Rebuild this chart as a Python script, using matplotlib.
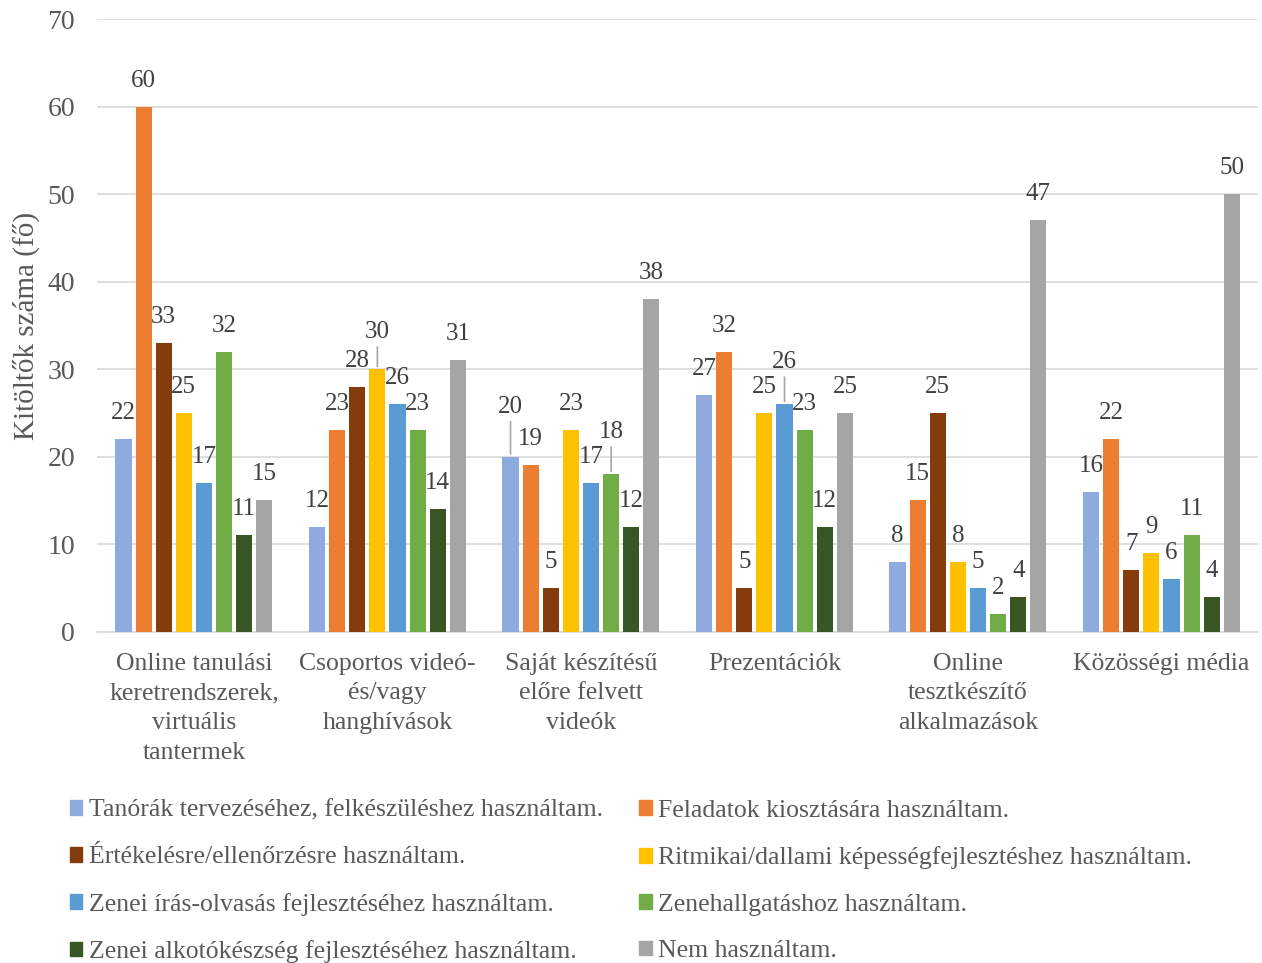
import numpy as np
import matplotlib
matplotlib.use("Agg")
import matplotlib.pyplot as plt
from matplotlib.patches import Patch

plt.rcParams['font.family'] = ['Liberation Serif', 'DejaVu Serif']

categories = ["Online tanulási\nkeretrendszerek,\nvirtuális\ntantermek",
              "Csoportos videó-\nés/vagy\nhanghívások",
              "Saját készítésű\nelőre felvett\nvideók",
              "Prezentációk",
              "Online\ntesztkészítő\nalkalmazások",
              "Közösségi média"]

series_names = ["Tanórák tervezéséhez, felkészüléshez használtam.",
                "Feladatok kiosztására használtam.",
                "Értékelésre/ellenőrzésre használtam.",
                "Ritmikai/dallami képességfejlesztéshez használtam.",
                "Zenei írás-olvasás fejlesztéséhez használtam.",
                "Zenehallgatáshoz használtam.",
                "Zenei alkotókészség fejlesztéséhez használtam.",
                "Nem használtam."]

tanorak = [22, 12, 20, 27, 8, 16]
feladatok = [60, 23, 19, 32, 15, 22]
ertekeles = [33, 28, 5, 5, 25, 7]
ritmikai = [25, 30, 23, 25, 8, 9]
iras_olvasas = [17, 26, 17, 26, 5, 6]
zenehallgatas = [32, 23, 18, 23, 2, 11]
alkotokeszseg = [11, 14, 12, 12, 4, 4]
nem_hasznalt = [15, 31, 38, 25, 47, 50]

values = [tanorak, feladatok, ertekeles, ritmikai, iras_olvasas,
          zenehallgatas, alkotokeszseg, nem_hasznalt]

colors = ["#8FAADC", "#ED7D31", "#843C0C", "#FFC000",
          "#5B9BD5", "#70AD47", "#375623", "#A5A5A5"]

# labels moved up with a leader line: (series, category) -> extra pixels
raised = {(3, 1): 11, (0, 2): 24, (5, 2): 16, (4, 3): 16}

txt = "#595959"
fig = plt.figure(figsize=(12.62, 9.63), dpi=100)
ax = fig.add_axes([0.077, 0.344, 0.920, 0.636])

x = np.arange(len(categories))
slot = 0.104
width = 0.083
for i, (vals, col) in enumerate(zip(values, colors)):
    pos = x + (i - 3.5) * slot
    ax.bar(pos, vals, width=width, color=col, zorder=3)
    for j, (px, v) in enumerate(zip(pos, vals)):
        extra = raised.get((i, j), 0)
        ax.annotate(str(v), (px, v), xytext=(0, 26 + extra),
                    textcoords='offset pixels', ha='center', va='center',
                    fontsize=18, color="#404040")
        if extra:
            ax.annotate("", (px, v), xytext=(0, 14 + extra),
                        textcoords='offset pixels',
                        arrowprops=dict(arrowstyle='-', color="#A6A6A6", lw=1.2))

ax.set_ylim(0, 70)
ax.set_xlim(-0.5, len(categories) - 0.5)
ax.set_yticks(range(0, 71, 10))
ax.yaxis.grid(True, color="#D9D9D9", lw=1.2, zorder=0)
ax.set_axisbelow(True)
for s in ['top', 'right', 'left']:
    ax.spines[s].set_visible(False)
ax.spines['bottom'].set_color("#D9D9D9")
ax.spines['bottom'].set_linewidth(1.2)
ax.tick_params(axis='both', length=0, labelcolor=txt)
ax.tick_params(axis='y', pad=16, labelsize=20)
ax.set_xticks(x)
ax.set_xticklabels(categories, fontsize=18.5, color=txt, linespacing=1.45)
ax.tick_params(axis='x', pad=15)
ax.set_ylabel("Kitöltők száma (fő)", fontsize=21, color=txt, labelpad=5)

handles = [Patch(color=c, label=n) for c, n in zip(colors, series_names)]
order = [0, 2, 4, 6, 1, 3, 5, 7]
fig.legend([handles[k] for k in order], [series_names[k] for k in order],
           ncol=2, loc='upper left', bbox_to_anchor=(0.047, 0.180),
           frameon=False, fontsize=18.5, labelcolor=txt,
           handlelength=0.5, handleheight=0.5, handletextpad=0.25,
           labelspacing=0.95, columnspacing=1.4, borderaxespad=0)

fig.savefig("out.png", dpi=100)
